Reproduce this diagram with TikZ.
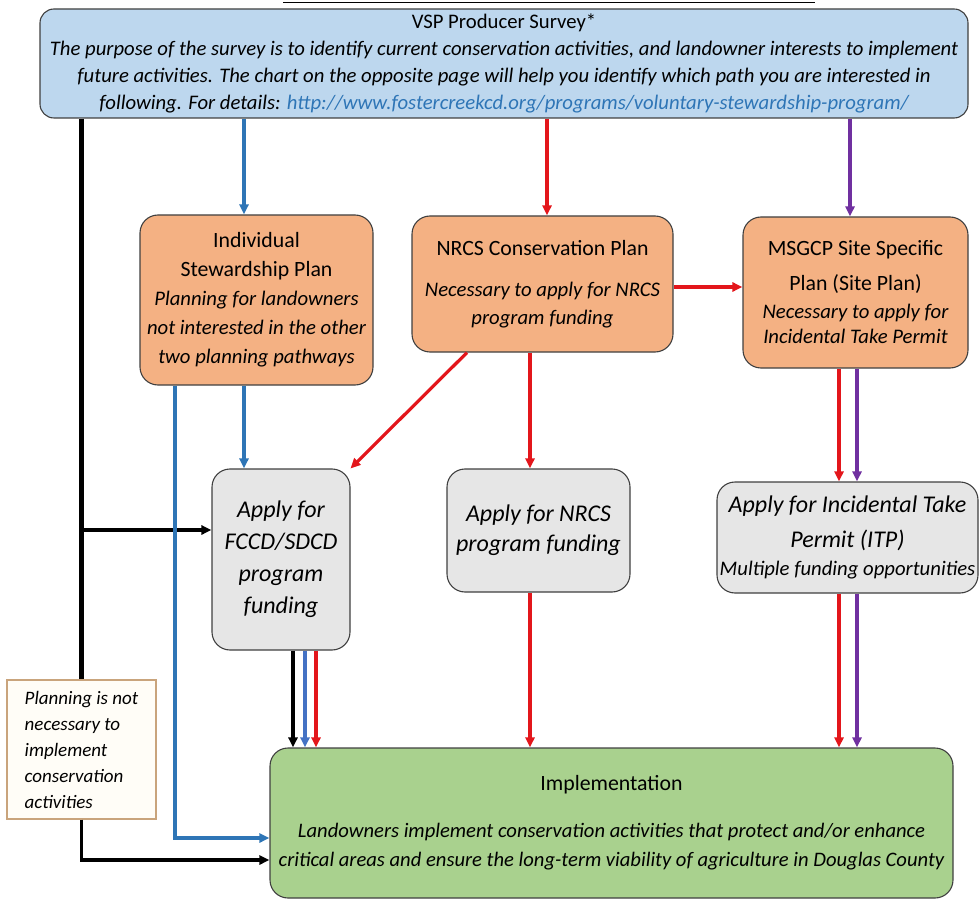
\documentclass[tikz,border=0pt]{standalone}
\usepackage{fontspec}
\setmainfont{Carlito}
\usetikzlibrary{arrows.meta,positioning}
\definecolor{surveyfill}{HTML}{BDD7EE}
\definecolor{planfill}{HTML}{F4B183}
\definecolor{applyfill}{HTML}{E6E6E6}
\definecolor{implfill}{HTML}{A9D18E}
\definecolor{edgegray}{HTML}{404040}
\definecolor{noteedge}{HTML}{C9A47C}
\definecolor{notefill}{HTML}{FFFDF7}
\definecolor{pathblue}{HTML}{2E75B6}
\definecolor{pathlblue}{HTML}{4472C4}
\definecolor{pathred}{HTML}{E3161B}
\definecolor{pathpurple}{HTML}{7030A0}
\newcommand{\fs}[2]{\fontsize{#1}{#2}\selectfont}

\begin{document}
\begin{tikzpicture}[x=1pt,y=-1pt,>={Triangle[length=10pt,width=9pt]},
  box/.style={draw=edgegray,line width=1.1pt,rounded corners=18pt,align=center,inner sep=0pt},
  plan/.style={box,fill=planfill},
  apply/.style={box,fill=applyfill},
  flow/.style={->,line width=3.2pt}]
\useasboundingbox (0,0) rectangle (980,901);
% cut-off heading rule
\draw[line width=1pt] (283,3) -- (815,3);
% survey
\node[box,fill=surveyfill,rounded corners=14pt,minimum width=928,minimum height=109,
  font={\fs{20.7}{27}\itshape}] (survey) at (504,63.5)
  {{\upshape VSP Producer Survey*}\\
   The purpose of the survey is to identify current conservation activities, and landowner interests to implement\\
   future activities. The chart on the opposite page will help you identify which path you are interested in\\
   following. For details: \textcolor{pathblue}{http://www.fostercreekcd.org/programs/voluntary-stewardship-program/}};
% planning pathways
\node[plan,minimum width=233,minimum height=170,font={\fs{20.7}{29}}] (isp) at (256.5,300)
  {{\fs{21.8}{32}Individual}\\{\fs{21.8}{30}Stewardship Plan}\\\itshape Planning for landowners\\
   \itshape not interested in the other\\\itshape two planning pathways};
\node[plan,minimum width=261,minimum height=136,font={\fs{20.7}{28}}] (ncp) at (542.5,284)
  {{\fs{21.8}{30}NRCS Conservation Plan}\\[13pt]\itshape Necessary to apply for NRCS\\\itshape program funding};
\node[plan,minimum width=225,minimum height=151,font={\fs{20.7}{28}}] (msgcp) at (855.5,292.5)
  {{\fs{21.8}{30}MSGCP Site Specific}\\[7pt]{\fs{21.8}{30}Plan (Site Plan)}\\\itshape Necessary to apply for\\[-3pt]
   \itshape Incidental Take Permit};
% funding
\node[apply,minimum width=138,minimum height=181,font={\fs{24}{32}\itshape}] (fccd) at (281,559.5)
  {Apply for\\FCCD/SDCD\\program\\funding};
\node[apply,minimum width=183,minimum height=123,font={\fs{24}{30}\itshape}] (anrcs) at (538.5,530.5)
  {Apply for NRCS\\program funding};
\node[apply,minimum width=261,minimum height=111,font={\fs{24}{35}\itshape}] (itp) at (847.5,537.5)
  {Apply for Incidental Take\\Permit (ITP)\\[-7pt]{\fs{20.7}{28}Multiple funding opportunities}};
% implementation
\node[box,fill=implfill,minimum width=683,minimum height=150,font={\fs{20.6}{29}\itshape}] (impl) at (611.5,823)
  {{\upshape\fs{21.8}{30}Implementation}\\[18pt]
   Landowners implement conservation activities that protect and/or enhance\\
   critical areas and ensure the long-term viability of agriculture in Douglas County};
\node[draw=noteedge,fill=notefill,line width=1.1pt,inner sep=0pt,align=left,minimum width=149,
  minimum height=139,font={\fs{19}{26}\itshape}] (note) at (81.5,749.5)
  {Planning is not\\necessary to\\implement\\conservation\\activities};
% survey to the plans
\draw[flow,pathblue] (survey.south -| 244,0) -- (isp.north -| 244,0);
\draw[flow,pathred] (survey.south -| 547,0) -- (ncp.north -| 547,0);
\draw[flow,pathpurple] (survey.south -| 850,0) -- (msgcp.north -| 850,0);
\draw[flow,pathred] (ncp.east |- 0,287) -- (msgcp.west |- 0,287);
% plans to funding
\draw[flow,pathblue] (isp.south -| 244,0) -- (fccd.north -| 244,0);
\draw[flow,pathred] (ncp.south -| 467,0) -- (fccd.north east);
\draw[flow,pathred] (ncp.south -| 530,0) -- (anrcs.north -| 530,0);
\draw[flow,pathred] (msgcp.south -| 839,0) -- (itp.north -| 839,0);
\draw[flow,pathpurple] (msgcp.south -| 857,0) -- (itp.north -| 857,0);
% no planning
\coordinate (jn) at (82,530);
\draw[line width=5.5pt] (survey.south -| note.north) -- (note.north);
\draw[flow,line width=3.5pt] (jn) -- (fccd.west |- jn);
% into implementation
\draw[flow,pathblue] (isp.south -| 175,0) |- (impl.west |- 0,838);
\draw[flow,line width=3.5pt] (note.south) |- (impl.west |- 0,860);
\draw[flow] (fccd.south -| 293,0) -- (impl.north -| 293,0);
\draw[flow,pathlblue] (fccd.south -| 305,0) -- (impl.north -| 305,0);
\draw[flow,pathred] (fccd.south -| 316,0) -- (impl.north -| 316,0);
\draw[flow,pathred] (anrcs.south -| 530,0) -- (impl.north -| 530,0);
\draw[flow,pathred] (itp.south -| 839,0) -- (impl.north -| 839,0);
\draw[flow,pathpurple] (itp.south -| 857,0) -- (impl.north -| 857,0);
\end{tikzpicture}
\end{document}
